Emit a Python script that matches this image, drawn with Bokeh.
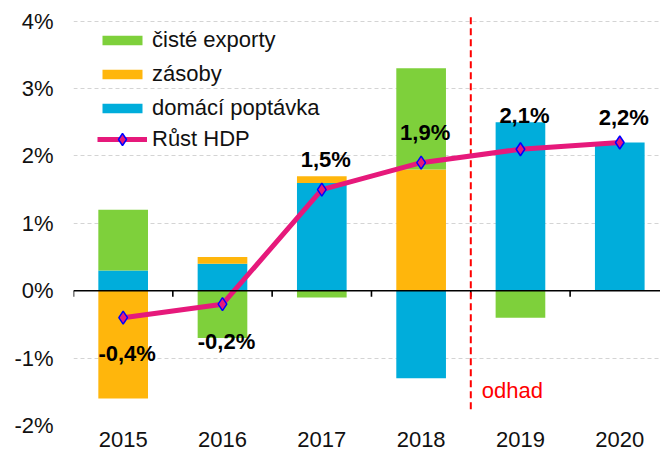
from bokeh.plotting import figure
from bokeh.models import (Range1d, FixedTicker, Span, Legend, LegendItem, ColumnDataSource)
from bokeh.embed import file_html
from bokeh.resources import INLINE
from bokeh.core.properties import value

years = ["2015", "2016", "2017", "2018", "2019", "2020"]
domestic = [0.3, 0.4, 1.6, -1.3, 2.5, 2.2]
inventories = [-1.6, 0.1, 0.1, 1.8, 0.0, 0.0]
net_exports = [0.9, -0.7, -0.1, 1.5, -0.4, 0.0]
gdp = [-0.4, -0.2, 1.5, 1.9, 2.1, 2.2]
y_ticks = [-2, -1, 0, 1, 2, 3, 4]
forecast_from = "2019"
forecast_label = "odhad"

C_GREEN = "#7ED03B"
C_ORANGE = "#FFB60C"
C_BLUE = "#00ADDB"
C_PINK = "#E6197B"
FONT = "Liberation Sans"
TXT = "#111111"
FS = "22px"

xs = list(range(len(years)))

series = [("domácí poptávka", domestic, C_BLUE),
          ("zásoby", inventories, C_ORANGE),
          ("čisté exporty", net_exports, C_GREEN)]
pos = [0.0] * len(years)
neg = [0.0] * len(years)
stacks = []
for name, vals, col in series:
    bottoms, tops = [], []
    for i, v in enumerate(vals):
        if v >= 0:
            bottoms.append(pos[i]); tops.append(pos[i] + v); pos[i] += v
        else:
            tops.append(neg[i]); bottoms.append(neg[i] + v); neg[i] += v
    stacks.append((name, bottoms, tops, col))

p = figure(width=660, height=461, output_backend="svg", toolbar_location=None,
           x_range=Range1d(-0.5, 5.41), y_range=Range1d(-2, 4.307),
           min_border_left=73, min_border_right=0, min_border_top=0, min_border_bottom=36)
p.outline_line_color = None
p.background_fill_color = "white"

p.xgrid.grid_line_color = None
p.ygrid.ticker = FixedTicker(ticks=y_ticks)
p.ygrid.grid_line_color = "#D4D4D4"
p.ygrid.grid_line_dash = "4 3"
p.ygrid.grid_line_width = 1

renderers = {}
for name, b, t, col in stacks:
    r = p.vbar(x=xs, bottom=b, top=t, width=0.5, fill_color=col, line_color=None)
    renderers[name] = r

p.add_layout(Span(location=0, dimension="width", line_color="black", line_width=1.6))
bounds = [i - 0.5 for i in xs]
tick_len = 6 / 67.4
p.segment(x0=bounds, y0=[0] * len(bounds), x1=bounds, y1=[-tick_len] * len(bounds),
          line_color="black", line_width=1.6)

fx = years.index(forecast_from) - 0.5
p.segment(x0=[fx], y0=[4.06], x1=[fx], y1=[-1.82], line_color="#FF0000", line_width=2,
          line_dash="7 4")
p.text(x=[fx], y=[-1.48], text=[forecast_label], text_color="#FF0000",
       text_font=value(FONT), text_font_size=FS, text_align="left",
       text_baseline="middle", x_offset=11)

ln = p.line(x=xs, y=gdp, line_color=C_PINK, line_width=5)
mk = p.scatter(x=xs, y=gdp, marker="diamond", size=13, fill_color=C_PINK,
               line_color="#0000FF", line_width=1.5)

labels = [f"{v:.1f}".replace(".", ",") + "%" for v in gdp]
label_dy = [36, 37, -30, -30, -34, -25]
src = ColumnDataSource(dict(x=xs, y=gdp, t=labels, yo=label_dy))
p.text(x="x", y="y", text="t", source=src, y_offset="yo", x_offset=4,
       text_font=value(FONT), text_font_size=FS, text_font_style="bold",
       text_align="center", text_baseline="middle", text_color="black")

p.xaxis.ticker = FixedTicker(ticks=xs)
p.xaxis.major_label_overrides = {i: y for i, y in enumerate(years)}
p.xaxis.axis_line_color = None
p.xaxis.major_tick_line_color = None
p.xaxis.minor_tick_line_color = None
p.xaxis.major_tick_out = 0
p.xaxis.major_label_standoff = 6
p.xaxis.major_label_text_font = FONT
p.xaxis.major_label_text_font_size = FS
p.xaxis.major_label_text_color = TXT

p.yaxis.ticker = FixedTicker(ticks=y_ticks)
p.yaxis.major_label_overrides = {v: f"{v}%" for v in y_ticks}
p.yaxis.axis_line_color = None
p.yaxis.major_tick_line_color = None
p.yaxis.minor_tick_line_color = None
p.yaxis.major_tick_out = 0
p.yaxis.major_label_standoff = 20
p.yaxis.major_label_text_font = FONT
p.yaxis.major_label_text_font_size = FS
p.yaxis.major_label_text_color = TXT


def style_legend(lg, gh):
    lg.margin = 0
    lg.padding = 0
    lg.border_line_color = None
    lg.background_fill_alpha = 0
    lg.glyph_width = 50
    lg.glyph_height = gh
    lg.label_height = 12
    lg.label_standoff = 5
    lg.spacing = 8
    lg.label_text_font = FONT
    lg.label_text_font_size = FS
    lg.label_text_color = TXT


legend = Legend(items=[
    LegendItem(label="čisté exporty", renderers=[renderers["čisté exporty"]]),
    LegendItem(label="zásoby", renderers=[renderers["zásoby"]]),
    LegendItem(label="domácí poptávka", renderers=[renderers["domácí poptávka"]]),
])
style_legend(legend, 12)
p.add_layout(legend)
legend.location = (24, 304)

legend2 = Legend(items=[LegendItem(label="Růst HDP", renderers=[ln, mk])])
style_legend(legend2, 30)
p.add_layout(legend2)
legend2.location = (24, 271)

open("out.html", "w").write(file_html(p, INLINE))
